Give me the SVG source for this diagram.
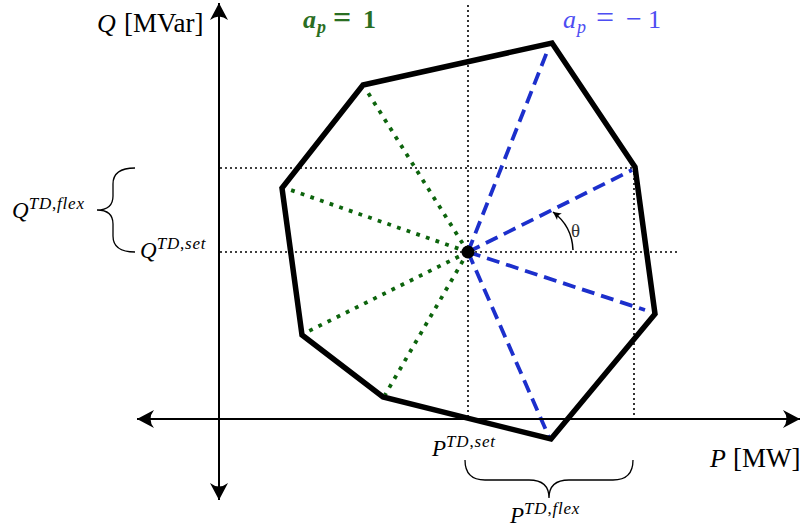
<svg xmlns="http://www.w3.org/2000/svg" width="804" height="530" viewBox="0 0 804 530">
<style>
text{font-family:"Liberation Serif","DejaVu Serif",serif;fill:#000}
.it{font-style:italic}
.sup{font-size:17px;letter-spacing:0.8px}
.guide{stroke:#000;stroke-width:1.6;stroke-dasharray:2 3;fill:none}
.green{stroke:#0d640d;stroke-width:3.8;stroke-dasharray:3.8 6.4;fill:none}
.blue{stroke:#1c2fcc;stroke-width:3.8;stroke-dasharray:13 7;fill:none}
.axis{stroke:#000;stroke-width:2;fill:none}
.brace{stroke:#000;stroke-width:1.3;fill:none}
</style>
<defs>
<marker id="ah" markerUnits="userSpaceOnUse" markerWidth="20" markerHeight="20" viewBox="-18 -10 20 20" refX="0" refY="0" orient="auto-start-reverse">
<path d="M0,0 L-17,-9 Q-10,0 -17,9 Z" fill="#000"/>
</marker>
<marker id="ahs" markerUnits="userSpaceOnUse" markerWidth="12" markerHeight="12" viewBox="-10 -6 12 12" refX="0" refY="0" orient="auto">
<path d="M0,0 L-8,-4 Q-5,0 -8,4 Z" fill="#000"/>
</marker>
</defs>
<g id="guides">
<line class="guide" x1="220" y1="168" x2="634" y2="168"/>
<line class="guide" x1="220" y1="252" x2="677" y2="252"/>
<line class="guide" x1="468" y1="5" x2="468" y2="418"/>
<line class="guide" x1="634" y1="168" x2="634" y2="418"/>
</g>
<g id="connectors">
<line class="green" x1="468" y1="252" x2="365" y2="88"/>
<line class="green" x1="468" y1="252" x2="285" y2="188"/>
<line class="green" x1="468" y1="252" x2="305" y2="333"/>
<line class="green" x1="468" y1="252" x2="385" y2="395"/>
<line class="blue" x1="468" y1="252" x2="547" y2="52"/>
<line class="blue" x1="468" y1="252" x2="632" y2="170"/>
<line class="blue" x1="468" y1="252" x2="645" y2="310"/>
<line class="blue" x1="468" y1="252" x2="549" y2="437"/>
</g>
<g id="axes">
<line class="axis" x1="219" y1="500" x2="219" y2="3" marker-start="url(#ah)" marker-end="url(#ah)"/>
<line class="axis" x1="137" y1="419" x2="800" y2="419" marker-start="url(#ah)" marker-end="url(#ah)"/>
</g>
<g id="polygon">
<polygon points="363,85 552,43 635,167 655,314 551,439 383,397 302,335 282,188" fill="none" stroke="#000" stroke-width="5.5" stroke-linejoin="miter"/>
</g>
<g id="center">
<circle cx="468" cy="252" r="6.5" fill="#000"/>
</g>
<g id="theta">
<path d="M573,250 Q572,226 553,212" stroke="#000" stroke-width="1.5" fill="none" marker-end="url(#ahs)"/>
<text x="571" y="237" font-size="19" style="fill:#333">θ</text>
</g>
<g id="label-q-axis">
<text y="32" font-size="26"><tspan class="it" x="97">Q</tspan><tspan x="124" font-size="27">[MVar]</tspan></text>
</g>
<g id="label-p-axis">
<text y="467" font-size="26"><tspan class="it" x="710">P</tspan><tspan x="733" font-size="27">[MW]</tspan></text>
</g>
<g id="label-ap1">
<text y="28" font-size="26" font-weight="bold" style="fill:#2a6e22"><tspan class="it" x="303">a</tspan><tspan class="it" font-size="18" x="317" dy="5">p</tspan><tspan x="333" dy="-5" font-size="32">=</tspan><tspan x="363">1</tspan></text>
</g>
<g id="label-apm1">
<text y="28" font-size="26" style="fill:#4d4df2"><tspan class="it" x="563">a</tspan><tspan class="it" font-size="18" x="577" dy="5">p</tspan><tspan x="596" dy="-5" font-size="32">=</tspan><tspan x="626" font-size="28">−</tspan><tspan x="648">1</tspan></text>
</g>
<g id="label-qflex">
<text x="12" y="218" font-size="23"><tspan class="it">Q</tspan><tspan class="sup" dy="-9"><tspan class="it">TD</tspan>,<tspan class="it">flex</tspan></tspan></text>
<path class="brace" d="M135,168 Q113,168 113,184 L113,196 Q113,210 97,210 Q113,210 113,224 L113,236 Q113,252 135,252"/>
</g>
<g id="label-qset">
<text x="140" y="258" font-size="23"><tspan class="it">Q</tspan><tspan class="sup" dy="-9"><tspan class="it">TD</tspan>,<tspan class="it">set</tspan></tspan></text>
</g>
<g id="label-pset">
<text x="432" y="456" font-size="23"><tspan class="it">P</tspan><tspan class="sup" dy="-9"><tspan class="it">TD</tspan>,<tspan class="it">set</tspan></tspan></text>
</g>
<g id="label-pflex">
<path class="brace" d="M465,460 Q465,480 485,480 L529,480 Q549,480 549,498 Q549,480 569,480 L613,480 Q633,480 633,460"/>
<text x="510" y="523" font-size="23"><tspan class="it">P</tspan><tspan class="sup" dy="-9"><tspan class="it">TD</tspan>,<tspan class="it">flex</tspan></tspan></text>
</g>
</svg>
